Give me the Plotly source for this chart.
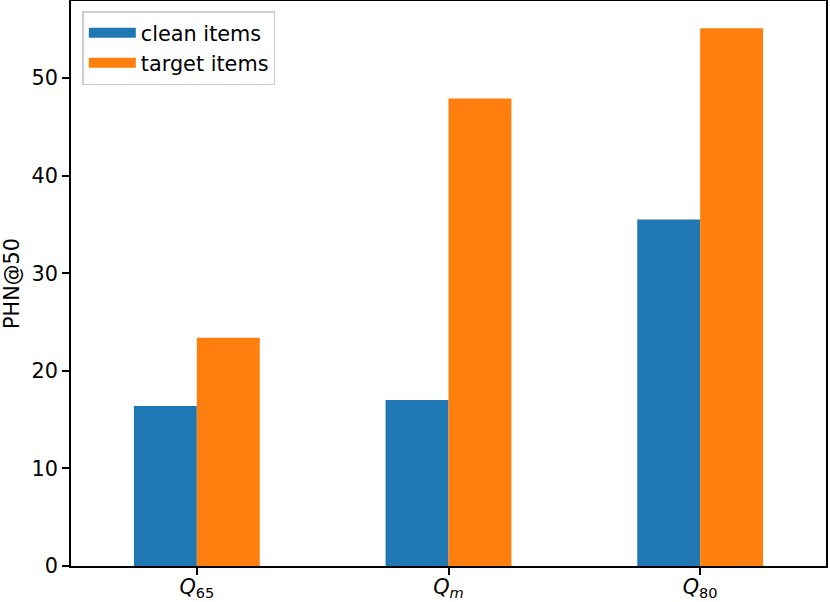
import plotly.graph_objects as go

# category labels and series values
categories = ["<i>Q</i><sub>65</sub>", "<i>Q</i><sub><i>m</i></sub>", "<i>Q</i><sub>80</sub>"]
series_names = ["clean items", "target items"]
clean_items = [16.4, 17.0, 35.5]
target_items = [23.4, 47.9, 55.1]
y_ticks = [0, 10, 20, 30, 40, 50]

BLUE = "#1f77b4"
ORANGE = "#ff7f0e"
FONT = "DejaVu Sans, Arial, sans-serif"
FS = 20.8  # 10pt at 150 dpi

fig = go.Figure()
for name, vals, col in zip(series_names, [clean_items, target_items], [BLUE, ORANGE]):
    fig.add_trace(go.Bar(name=name, x=categories, y=vals, marker=dict(color=col, line_width=0), showlegend=False))
    # legend entry drawn as a wide patch (matplotlib style)
    fig.add_trace(go.Scatter(name=name, x=[None], y=[None], mode="lines", line=dict(color=col, width=14.5)))

fig.update_layout(
    width=830,
    height=602,
    barmode="group",
    bargap=0.5,
    bargroupgap=0,
    plot_bgcolor="white",
    paper_bgcolor="white",
    font=dict(family=FONT, size=FS, color="black"),
    margin=dict(l=71, r=4, t=1, b=36),
    legend=dict(
        x=0.015,
        y=0.982,
        xanchor="left",
        yanchor="top",
        bgcolor="rgba(255,255,255,0.8)",
        bordercolor="#cccccc",
        borderwidth=1.5,
        font=dict(size=FS),
        tracegroupgap=0,
        itemwidth=47,
    ),
)
fig.update_xaxes(
    range=[-0.5, 2.5],
    automargin=False,
    showline=True,
    linecolor="black",
    linewidth=1.6,
    mirror=True,
    ticks="outside",
    ticklen=7,
    tickwidth=1.6,
    tickcolor="black",
    showgrid=False,
    tickfont=dict(size=FS),
    ticklabelstandoff=-6,
)
fig.update_yaxes(
    range=[0, 57.9],
    automargin=False,
    tickvals=y_ticks,
    title=dict(text="PHN@50", font=dict(size=FS), standoff=8),
    showline=True,
    linecolor="black",
    linewidth=1.6,
    mirror=True,
    ticks="outside",
    ticklen=7,
    tickwidth=1.6,
    tickcolor="black",
    showgrid=False,
    zeroline=False,
    tickfont=dict(size=FS),
)

fig.write_html(
    "out.html",
    config={"displayModeBar": False},
    post_script="document.body.style.margin='0';",
)
